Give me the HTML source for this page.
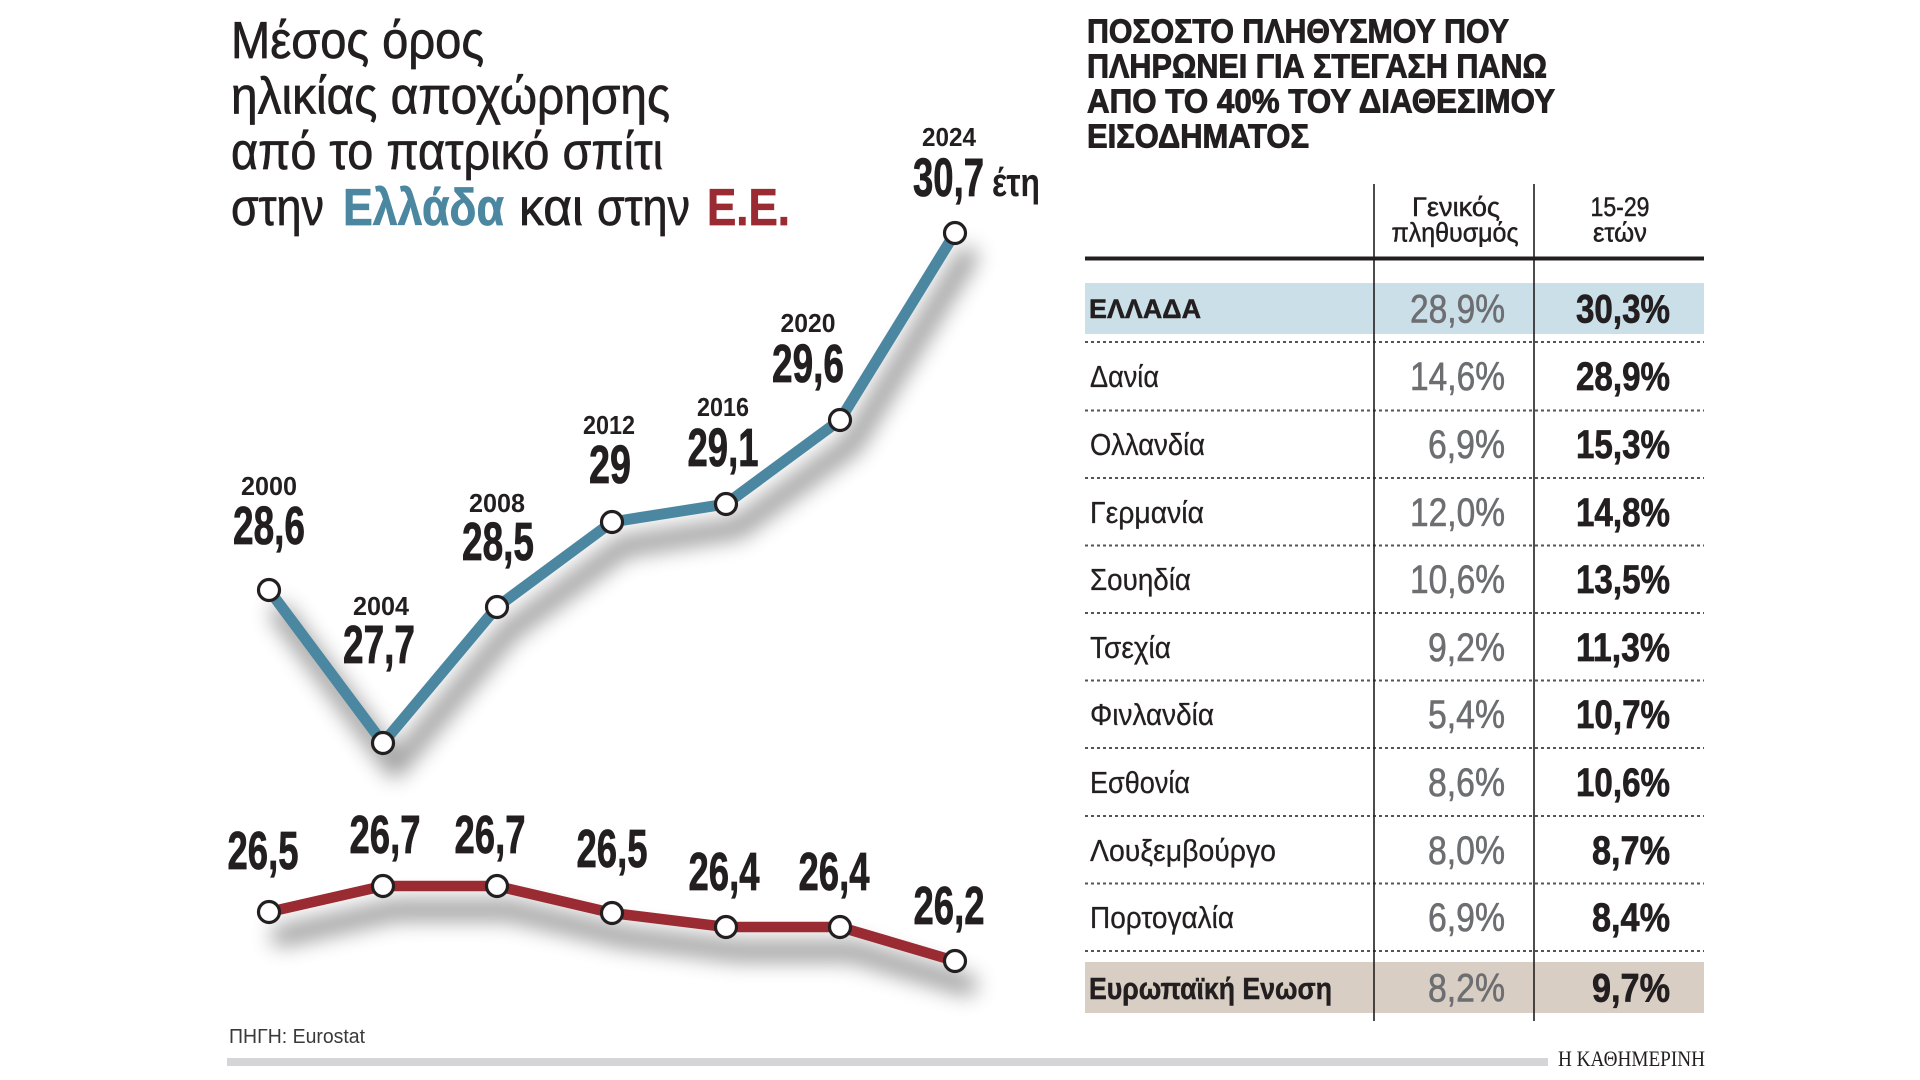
<!DOCTYPE html>
<html>
<head>
<meta charset="utf-8">
<style>
html,body{margin:0;padding:0;background:#fff;}
svg{display:block;}
text{font-family:"Liberation Sans","DejaVu Sans",sans-serif;}
</style>
</head>
<body>
<svg width="1920" height="1080" viewBox="0 0 1920 1080" xmlns="http://www.w3.org/2000/svg">
<defs>
<filter id="sh" x="-30%" y="-30%" width="160%" height="180%">
<feGaussianBlur stdDeviation="11"/>
</filter>
</defs>
<rect width="1920" height="1080" fill="#fff"/>

<!-- Left title -->
<g fill="#231f20" font-size="52" stroke="#231f20" stroke-width="0.7">
<text x="231" y="58" textLength="253" lengthAdjust="spacingAndGlyphs">Μέσος όρος</text>
<text x="231" y="113.5" textLength="439" lengthAdjust="spacingAndGlyphs">ηλικίας αποχώρησης</text>
<text x="231" y="169" textLength="432" lengthAdjust="spacingAndGlyphs">από το πατρικό σπίτι</text>
<text x="231" y="225" textLength="93" lengthAdjust="spacingAndGlyphs">στην</text>
<text x="343" y="225" textLength="161" lengthAdjust="spacingAndGlyphs" font-weight="bold" fill="#4b87a0" stroke="#4b87a0">Ελλάδα</text>
<text x="519" y="225" textLength="64" lengthAdjust="spacingAndGlyphs">και</text>
<text x="597" y="225" textLength="93" lengthAdjust="spacingAndGlyphs">στην</text>
<text x="707" y="225" textLength="83" lengthAdjust="spacingAndGlyphs" font-weight="bold" fill="#9b2b33" stroke="#9b2b33">Ε.Ε.</text>
</g>

<!-- Shadows -->
<g filter="url(#sh)" opacity="0.4" transform="translate(12,24)">
<polyline points="269,590 383,743 497,607 612,522 726,504 840,420 955,233" fill="none" stroke="#000" stroke-width="20" stroke-linejoin="round" stroke-linecap="round"/>
<polyline points="269,912 383,886 497,886 612,913 726,927 840,927 955,961" fill="none" stroke="#000" stroke-width="20" stroke-linejoin="round" stroke-linecap="round"/>
</g>

<!-- Lines -->
<polyline points="269,590 383,743 497,607 612,522 726,504 840,420 955,233" fill="none" stroke="#4b87a0" stroke-width="11" stroke-linejoin="round"/>
<polyline points="269,912 383,886 497,886 612,913 726,927 840,927 955,961" fill="none" stroke="#9b2b33" stroke-width="10.5" stroke-linejoin="round"/>

<!-- Markers -->
<g fill="#fff" stroke="#231f20" stroke-width="3.2">
<circle cx="269" cy="590" r="10.5"/>
<circle cx="383" cy="743" r="10.5"/>
<circle cx="497" cy="607" r="10.5"/>
<circle cx="612" cy="522" r="10.5"/>
<circle cx="726" cy="504" r="10.5"/>
<circle cx="840" cy="420" r="10.5"/>
<circle cx="955" cy="233" r="10.5"/>
<circle cx="269" cy="912" r="10.5"/>
<circle cx="383" cy="886" r="10.5"/>
<circle cx="497" cy="886" r="10.5"/>
<circle cx="612" cy="913" r="10.5"/>
<circle cx="726" cy="927" r="10.5"/>
<circle cx="840" cy="927" r="10.5"/>
<circle cx="955" cy="961" r="10.5"/>
</g>

<!-- Blue labels -->
<g fill="#231f20" font-weight="bold" text-anchor="middle">
<g font-size="26">
<text x="269" y="495" textLength="56" lengthAdjust="spacingAndGlyphs">2000</text>
<text x="381" y="615" textLength="56" lengthAdjust="spacingAndGlyphs">2004</text>
<text x="497" y="512" textLength="56" lengthAdjust="spacingAndGlyphs">2008</text>
<text x="609" y="434" textLength="52" lengthAdjust="spacingAndGlyphs">2012</text>
<text x="723" y="416" textLength="52" lengthAdjust="spacingAndGlyphs">2016</text>
<text x="808" y="332" textLength="55" lengthAdjust="spacingAndGlyphs">2020</text>
<text x="949" y="146" textLength="54" lengthAdjust="spacingAndGlyphs">2024</text>
</g>
<g font-size="54" stroke="#231f20" stroke-width="0.8">
<text x="269" y="544" textLength="72" lengthAdjust="spacingAndGlyphs">28,6</text>
<text x="379" y="663" textLength="72" lengthAdjust="spacingAndGlyphs">27,7</text>
<text x="498" y="560" textLength="72" lengthAdjust="spacingAndGlyphs">28,5</text>
<text x="610" y="483" textLength="42" lengthAdjust="spacingAndGlyphs">29</text>
<text x="723" y="466" textLength="71" lengthAdjust="spacingAndGlyphs">29,1</text>
<text x="808" y="382" textLength="72" lengthAdjust="spacingAndGlyphs">29,6</text>
</g>
</g>
<text x="913" y="196" font-size="54" font-weight="bold" fill="#231f20" stroke="#231f20" stroke-width="0.8" textLength="71" lengthAdjust="spacingAndGlyphs">30,7</text>
<text x="992" y="196" font-size="40" font-weight="bold" fill="#231f20" textLength="48" lengthAdjust="spacingAndGlyphs">έτη</text>

<!-- Red labels -->
<g fill="#231f20" font-weight="bold" text-anchor="middle" font-size="54" stroke="#231f20" stroke-width="0.8">
<text x="263" y="869" textLength="71" lengthAdjust="spacingAndGlyphs">26,5</text>
<text x="385" y="853" textLength="71" lengthAdjust="spacingAndGlyphs">26,7</text>
<text x="490" y="853" textLength="71" lengthAdjust="spacingAndGlyphs">26,7</text>
<text x="612" y="867" textLength="71" lengthAdjust="spacingAndGlyphs">26,5</text>
<text x="724" y="890" textLength="71" lengthAdjust="spacingAndGlyphs">26,4</text>
<text x="834" y="890" textLength="71" lengthAdjust="spacingAndGlyphs">26,4</text>
<text x="949" y="924" textLength="71" lengthAdjust="spacingAndGlyphs">26,2</text>
</g>

<!-- Source -->
<text x="229" y="1043" font-size="20" fill="#3a3a3a" textLength="136" lengthAdjust="spacingAndGlyphs">ΠΗΓΗ: Eurostat</text>

<!-- Bottom bar -->
<rect x="227" y="1058" width="1321" height="8" fill="#d5d5d7"/>
<text x="1558" y="1066" font-size="22" fill="#231f20" textLength="147" lengthAdjust="spacingAndGlyphs" style="font-family:'Liberation Serif',serif">Η ΚΑΘΗΜΕΡΙΝΗ</text>

<!-- Right title -->
<g fill="#231f20" font-weight="bold" font-size="33" stroke="#231f20" stroke-width="0.9">
<text x="1087" y="42.5" textLength="422" lengthAdjust="spacingAndGlyphs">ΠΟΣΟΣΤΟ ΠΛΗΘΥΣΜΟΥ ΠΟΥ</text>
<text x="1087" y="77.5" textLength="460" lengthAdjust="spacingAndGlyphs">ΠΛΗΡΩΝΕΙ ΓΙΑ ΣΤΕΓΑΣΗ ΠΑΝΩ</text>
<text x="1087" y="112.5" textLength="468" lengthAdjust="spacingAndGlyphs">ΑΠΟ ΤΟ 40% ΤΟΥ ΔΙΑΘΕΣΙΜΟΥ</text>
<text x="1087" y="147.5" textLength="222" lengthAdjust="spacingAndGlyphs">ΕΙΣΟΔΗΜΑΤΟΣ</text>
</g>

<!-- Table bands -->
<rect x="1085" y="283" width="619" height="51" fill="#cbdfe8"/>
<rect x="1085" y="962" width="619" height="51" fill="#d9cec3"/>

<!-- Header text -->
<g fill="#231f20" font-size="27" text-anchor="middle" stroke="#231f20" stroke-width="0.5">
<text x="1456" y="216" textLength="88" lengthAdjust="spacingAndGlyphs">Γενικός</text>
<text x="1455" y="241.5" textLength="127" lengthAdjust="spacingAndGlyphs">πληθυσμός</text>
<text x="1620" y="216" textLength="59" lengthAdjust="spacingAndGlyphs">15-29</text>
<text x="1620" y="241.5" textLength="54" lengthAdjust="spacingAndGlyphs">ετών</text>
</g>

<!-- Dotted separators -->
<g stroke="#555" stroke-width="2" stroke-dasharray="3,3">
<line x1="1085" y1="342" x2="1704" y2="342"/>
<line x1="1085" y1="410.5" x2="1704" y2="410.5"/>
<line x1="1085" y1="478" x2="1704" y2="478"/>
<line x1="1085" y1="545.5" x2="1704" y2="545.5"/>
<line x1="1085" y1="613" x2="1704" y2="613"/>
<line x1="1085" y1="680.5" x2="1704" y2="680.5"/>
<line x1="1085" y1="748" x2="1704" y2="748"/>
<line x1="1085" y1="816" x2="1704" y2="816"/>
<line x1="1085" y1="883.5" x2="1704" y2="883.5"/>
<line x1="1085" y1="951" x2="1704" y2="951"/>
</g>

<!-- Header rule and column lines -->
<rect x="1085" y="256.5" width="619" height="4" fill="#231f20"/>
<rect x="1373.2" y="184" width="1.6" height="837" fill="#231f20"/>
<rect x="1533.2" y="184" width="1.6" height="837" fill="#231f20"/>

<!-- Greece row -->
<text x="1089" y="318" font-size="27" font-weight="bold" fill="#231f20" stroke="#231f20" stroke-width="0.5" textLength="112" lengthAdjust="spacingAndGlyphs">ΕΛΛΑΔΑ</text>
<text x="1505" y="322.5" font-size="40" fill="#6d6e71" stroke="#6d6e71" stroke-width="0.6" text-anchor="end" textLength="95" lengthAdjust="spacingAndGlyphs">28,9%</text>
<text x="1670" y="322.5" font-size="40" font-weight="bold" fill="#231f20" stroke="#231f20" stroke-width="0.7" text-anchor="end" textLength="94" lengthAdjust="spacingAndGlyphs">30,3%</text>

<!-- Country rows -->
<g font-size="31" fill="#231f20" stroke="#231f20" stroke-width="0.3">
<text x="1090" y="387" textLength="69" lengthAdjust="spacingAndGlyphs">Δανία</text>
<text x="1090" y="455" textLength="115" lengthAdjust="spacingAndGlyphs">Ολλανδία</text>
<text x="1090" y="523" textLength="114" lengthAdjust="spacingAndGlyphs">Γερμανία</text>
<text x="1090" y="590" textLength="101" lengthAdjust="spacingAndGlyphs">Σουηδία</text>
<text x="1090" y="658" textLength="81" lengthAdjust="spacingAndGlyphs">Τσεχία</text>
<text x="1090" y="725" textLength="124" lengthAdjust="spacingAndGlyphs">Φινλανδία</text>
<text x="1090" y="793" textLength="100" lengthAdjust="spacingAndGlyphs">Εσθονία</text>
<text x="1090" y="861" textLength="186" lengthAdjust="spacingAndGlyphs">Λουξεμβούργο</text>
<text x="1090" y="928" textLength="144" lengthAdjust="spacingAndGlyphs">Πορτογαλία</text>
</g>
<g font-size="40" fill="#6d6e71" stroke="#6d6e71" stroke-width="0.6" text-anchor="end">
<text x="1505" y="390" textLength="95" lengthAdjust="spacingAndGlyphs">14,6%</text>
<text x="1505" y="458" textLength="77" lengthAdjust="spacingAndGlyphs">6,9%</text>
<text x="1505" y="526" textLength="95" lengthAdjust="spacingAndGlyphs">12,0%</text>
<text x="1505" y="593" textLength="95" lengthAdjust="spacingAndGlyphs">10,6%</text>
<text x="1505" y="661" textLength="77" lengthAdjust="spacingAndGlyphs">9,2%</text>
<text x="1505" y="728" textLength="77" lengthAdjust="spacingAndGlyphs">5,4%</text>
<text x="1505" y="796" textLength="77" lengthAdjust="spacingAndGlyphs">8,6%</text>
<text x="1505" y="864" textLength="77" lengthAdjust="spacingAndGlyphs">8,0%</text>
<text x="1505" y="931" textLength="77" lengthAdjust="spacingAndGlyphs">6,9%</text>
</g>
<g font-size="40" font-weight="bold" fill="#231f20" stroke="#231f20" stroke-width="0.7" text-anchor="end">
<text x="1670" y="390" textLength="94" lengthAdjust="spacingAndGlyphs">28,9%</text>
<text x="1670" y="458" textLength="94" lengthAdjust="spacingAndGlyphs">15,3%</text>
<text x="1670" y="526" textLength="94" lengthAdjust="spacingAndGlyphs">14,8%</text>
<text x="1670" y="593" textLength="94" lengthAdjust="spacingAndGlyphs">13,5%</text>
<text x="1670" y="661" textLength="94" lengthAdjust="spacingAndGlyphs">11,3%</text>
<text x="1670" y="728" textLength="94" lengthAdjust="spacingAndGlyphs">10,7%</text>
<text x="1670" y="796" textLength="94" lengthAdjust="spacingAndGlyphs">10,6%</text>
<text x="1670" y="864" textLength="78" lengthAdjust="spacingAndGlyphs">8,7%</text>
<text x="1670" y="931" textLength="78" lengthAdjust="spacingAndGlyphs">8,4%</text>
</g>

<!-- EU row -->
<text x="1089" y="999" font-size="31" font-weight="bold" fill="#231f20" stroke="#231f20" stroke-width="0.5" textLength="243" lengthAdjust="spacingAndGlyphs">Ευρωπαϊκή Ενωση</text>
<text x="1505" y="1001.5" font-size="40" fill="#6d6e71" stroke="#6d6e71" stroke-width="0.6" text-anchor="end" textLength="77" lengthAdjust="spacingAndGlyphs">8,2%</text>
<text x="1670" y="1001.5" font-size="40" font-weight="bold" fill="#231f20" stroke="#231f20" stroke-width="0.7" text-anchor="end" textLength="78" lengthAdjust="spacingAndGlyphs">9,7%</text>
</svg>
</body>
</html>
